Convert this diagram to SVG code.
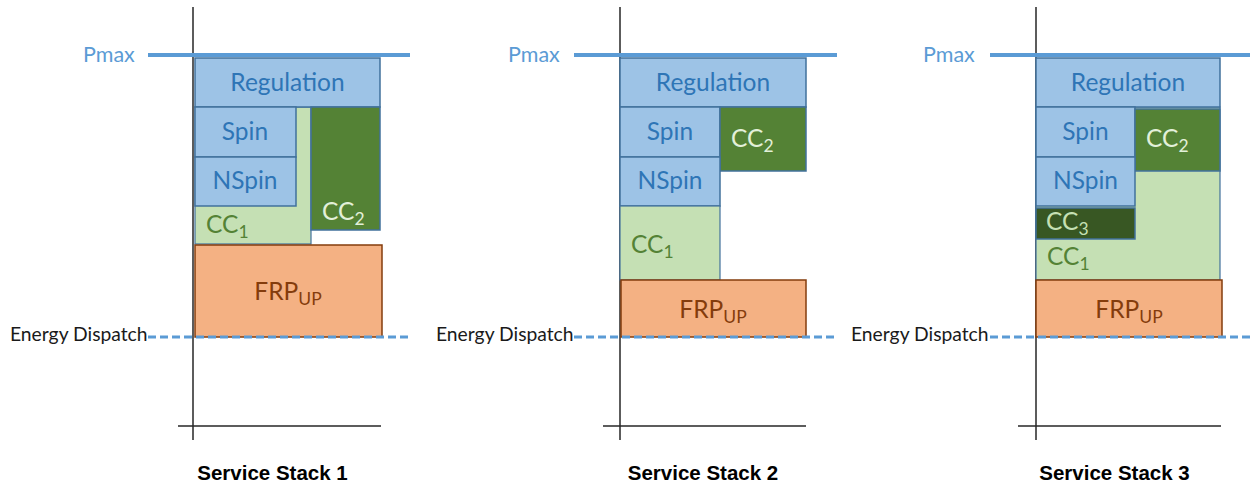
<svg xmlns="http://www.w3.org/2000/svg" width="1250" height="486" viewBox="0 0 1250 486">
<style>
.axis{stroke:#262626;stroke-width:1.5;fill:none}
.pmax{stroke:#5B9BD5;stroke-width:4;fill:none}
.disp{stroke:#5B9BD5;stroke-width:3;stroke-dasharray:8 4;fill:none}
.lbl{font-family:Lato,"Liberation Sans",sans-serif;fill:#5B9BD5;font-size:21.5px}
.ed{font-family:Lato,"Liberation Sans",sans-serif;fill:#1a1a1a;font-size:19.3px}
.title{font-family:"Liberation Sans",Arial,sans-serif;font-weight:bold;fill:#000;font-size:20.5px;text-anchor:middle}
.blue{fill:#9DC3E6;stroke:#41719C;stroke-width:1.5}
.lg{fill:#C5E0B4;stroke:#41719C;stroke-width:1.2}
.dg{fill:#548235;stroke:#41719C;stroke-width:1.5}
.vdg{fill:#385723;stroke:#41719C;stroke-width:1.5}
.frp{fill:#F4B183;stroke:#843C0C;stroke-width:1.5}
.t{font-family:Lato,"Liberation Sans",sans-serif;font-size:24.5px}
.tb{fill:#2E75B6;text-anchor:middle}
.tlg{fill:#548235}
.tdg{fill:#E2F0D9}
.tvdg{fill:#C5E0B4}
.tfrp{fill:#843C0C;text-anchor:middle}
.sub{font-size:17.5px}
</style>

<g id="axes">
  <line class="axis" x1="193" y1="7" x2="193" y2="440"/>
  <line class="axis" x1="178" y1="426" x2="381" y2="426"/>
  <line class="axis" x1="620" y1="7" x2="620" y2="440"/>
  <line class="axis" x1="603" y1="426" x2="806" y2="426"/>
  <line class="axis" x1="1036" y1="7" x2="1036" y2="440"/>
  <line class="axis" x1="1018" y1="426" x2="1221" y2="426"/>
</g>

<!-- Stack 1 -->
<g id="stack1">
  <g id="s1-cc1"><rect class="lg" x="195" y="107" width="116" height="137"/>
    <text class="t tlg" x="206" y="233">CC<tspan class="sub" dy="5">1</tspan></text></g>
  <g id="s1-regulation"><rect class="blue" x="195" y="58" width="185" height="49"/>
    <text class="t tb" x="287.5" y="91">Regulation</text></g>
  <g id="s1-spin"><rect class="blue" x="195" y="107" width="101" height="50"/>
    <text class="t tb" x="245" y="140">Spin</text></g>
  <g id="s1-nspin"><rect class="blue" x="195" y="157" width="101" height="49"/>
    <text class="t tb" x="245" y="189">NSpin</text></g>
  <g id="s1-cc2"><rect class="dg" x="311" y="107" width="69" height="123"/>
    <text class="t tdg" x="322" y="220">CC<tspan class="sub" dy="5">2</tspan></text></g>
  <g id="s1-frp"><rect class="frp" x="195" y="245" width="187" height="92"/>
    <text class="t tfrp" x="288" y="300">FRP<tspan class="sub" dy="5">UP</tspan></text></g>
</g>

<!-- Stack 2 -->
<g id="stack2">
  <g id="s2-regulation"><rect class="blue" x="620" y="58" width="186" height="49"/>
    <text class="t tb" x="713" y="91">Regulation</text></g>
  <g id="s2-spin"><rect class="blue" x="620" y="107" width="100" height="50"/>
    <text class="t tb" x="670" y="140">Spin</text></g>
  <g id="s2-cc2"><rect class="dg" x="720" y="107" width="86" height="64"/>
    <text class="t tdg" x="731" y="147">CC<tspan class="sub" dy="5">2</tspan></text></g>
  <g id="s2-nspin"><rect class="blue" x="620" y="157" width="100" height="49"/>
    <text class="t tb" x="670" y="189">NSpin</text></g>
  <g id="s2-cc1"><rect class="lg" x="620" y="206" width="100" height="74"/>
    <text class="t tlg" x="631" y="253">CC<tspan class="sub" dy="5">1</tspan></text></g>
  <g id="s2-frp"><rect class="frp" x="621" y="280" width="185" height="57"/>
    <text class="t tfrp" x="713" y="318">FRP<tspan class="sub" dy="5">UP</tspan></text></g>
</g>

<!-- Stack 3 -->
<g id="stack3">
  <g id="s3-cc1"><rect class="lg" x="1036" y="107" width="184" height="173"/>
    <text class="t tlg" x="1047" y="265">CC<tspan class="sub" dy="5">1</tspan></text></g>
  <g id="s3-regulation"><rect class="blue" x="1036" y="58" width="184" height="49"/>
    <text class="t tb" x="1128" y="91">Regulation</text></g>
  <g id="s3-spin"><rect class="blue" x="1036" y="107" width="99" height="50"/>
    <text class="t tb" x="1085.5" y="140">Spin</text></g>
  <g id="s3-cc2"><rect class="dg" x="1135" y="109" width="85" height="62"/>
    <text class="t tdg" x="1146" y="147">CC<tspan class="sub" dy="5">2</tspan></text></g>
  <g id="s3-nspin"><rect class="blue" x="1036" y="157" width="99" height="49"/>
    <text class="t tb" x="1085.5" y="189">NSpin</text></g>
  <g id="s3-cc3"><rect class="vdg" x="1036" y="208" width="99" height="31"/>
    <text class="t tvdg" x="1046" y="230">CC<tspan class="sub" dy="5">3</tspan></text></g>
  <g id="s3-frp"><rect class="frp" x="1036" y="280" width="186" height="57"/>
    <text class="t tfrp" x="1129" y="318">FRP<tspan class="sub" dy="5">UP</tspan></text></g>
</g>

<g id="levels">
  <line class="pmax" x1="148" y1="55" x2="410" y2="55"/>
  <line class="pmax" x1="574" y1="55" x2="837" y2="55"/>
  <line class="pmax" x1="990" y1="55" x2="1250" y2="55"/>
  <line class="disp" x1="148" y1="337" x2="410" y2="337"/>
  <line class="disp" x1="574" y1="337" x2="837" y2="337"/>
  <line class="disp" x1="990" y1="337" x2="1250" y2="337"/>
  <text class="lbl" x="83" y="62">Pmax</text>
  <text class="lbl" x="508" y="62">Pmax</text>
  <text class="lbl" x="923" y="62">Pmax</text>
  <text class="ed" x="10" y="341">Energy Dispatch</text>
  <text class="ed" x="436" y="341">Energy Dispatch</text>
  <text class="ed" x="851" y="341">Energy Dispatch</text>
</g>

<g id="titles">
  <text class="title" x="272.5" y="480">Service Stack 1</text>
  <text class="title" x="703" y="480">Service Stack 2</text>
  <text class="title" x="1114.5" y="480">Service Stack 3</text>
</g>
</svg>
